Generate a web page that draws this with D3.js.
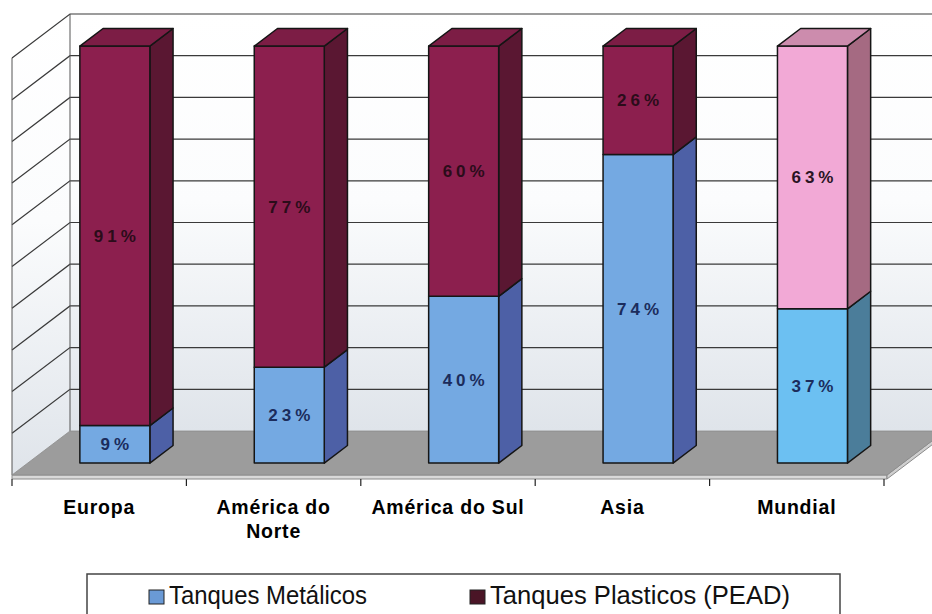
<!DOCTYPE html>
<html>
<head>
<meta charset="utf-8">
<script src="https://cdn.jsdelivr.net/npm/d3@7"></script>
<style>
  html, body { margin: 0; padding: 0; background: #fff; }
  svg { display: block; }
</style>
</head>
<body>
<div id="container"></div>
<script>
// data
const categories = ["Europa", "América do Norte", "América do Sul", "Asia", "Mundial"];
const categoryLines = [["Europa"], ["América do", "Norte"], ["América do Sul"], ["Asia"], ["Mundial"]];
const metalicos = [9, 23, 40, 74, 37];
const plasticos = [91, 77, 60, 26, 63];
const seriesNames = ["Tanques Metálicos", "Tanques Plasticos (PEAD)"];

const width = 932, height = 614;
const DX = 58, DY = 44;        // depth offset of the 3d box
const floorY = 475;
const z0 = 0.27, z1 = 0.67;    // bar depth inside the box
const barW = 70;

// face colours: [front, side, top]
const pal = {
  metal:   ["#74a9e2", "#4d60a6", "#5d86c8"],
  plastic: ["#8c1f4e", "#5a1732", "#7c1d45"],
  metalW:  ["#6cc0f2", "#4b7d9a", "#5aa0c8"],
  plastW:  ["#f2a9d6", "#a56a82", "#cc8cad"]
};

const svg = d3.select("#container").append("svg")
  .attr("width", width).attr("height", height)
  .style("font-family", "'Liberation Sans', Arial, sans-serif");

const x = d3.scaleBand().domain(categories).range([12, 884]);
const y = d3.scaleLinear().domain([0, 100]).range([0, 417]);

const proj = (px, v, z) => [px + z * DX, floorY - y(v) - z * DY];
const poly = pts => "M" + pts.map(p => p.join(",")).join("L") + "Z";

const defs = svg.append("defs");
const grad = defs.append("linearGradient").attr("id", "wall")
  .attr("x1", 0).attr("y1", 0).attr("x2", 0).attr("y2", 1);
grad.append("stop").attr("offset", "0%").attr("stop-color", "#ffffff");
grad.append("stop").attr("offset", "45%").attr("stop-color", "#fbfcfd");
grad.append("stop").attr("offset", "100%").attr("stop-color", "#dfe4ea");

const xL = 12, xR = 1000;

// walls
svg.append("path")
  .attr("d", poly([proj(xL, 0, 1), proj(xL, 100, 1), proj(xR, 100, 1), proj(xR, 0, 1)]))
  .attr("fill", "url(#wall)");
svg.append("path")
  .attr("d", poly([proj(xL, 0, 0), proj(xL, 100, 0), proj(xL, 100, 1), proj(xL, 0, 1)]))
  .attr("fill", "url(#wall)");

// gridlines
const grid = d3.range(10, 101, 10);
grid.forEach(v => {
  const a = proj(xL, v, 0), b = proj(xL, v, 1), c = proj(xR, v, 1);
  svg.append("path").attr("d", `M${a}L${b}L${c}`)
    .attr("fill", "none").attr("stroke", "#3a3a3a").attr("stroke-width", 1.2);
});
svg.append("line")
  .attr("x1", proj(xL, 0, 0)[0]).attr("y1", proj(xL, 0, 0)[1])
  .attr("x2", proj(xL, 100, 0)[0]).attr("y2", proj(xL, 100, 0)[1])
  .attr("stroke", "#555").attr("stroke-width", 1);
svg.append("line")
  .attr("x1", proj(xL, 0, 1)[0]).attr("y1", proj(xL, 0, 1)[1])
  .attr("x2", proj(xL, 100, 1)[0]).attr("y2", proj(xL, 100, 1)[1])
  .attr("stroke", "#555").attr("stroke-width", 1);

// floor with a thin slab
const fR = 887;
const slab = 4;
svg.append("path")
  .attr("d", poly([proj(xL, 0, 0), proj(fR, 0, 0), [fR, floorY + slab], [xL, floorY + slab]]))
  .attr("fill", "#d9d9d9").attr("stroke", "#8a8a8a").attr("stroke-width", 1);
svg.append("path")
  .attr("d", poly([proj(fR, 0, 0), proj(fR, 0, 1), [fR + DX, floorY - DY + slab], [fR, floorY + slab]]))
  .attr("fill", "#cfcfcf").attr("stroke", "#8a8a8a").attr("stroke-width", 1);
svg.append("path")
  .attr("d", poly([proj(xL, 0, 0), proj(fR, 0, 0), proj(fR, 0, 1), proj(xL, 0, 1)]))
  .attr("fill", "#9c9c9c").attr("stroke", "#8a8a8a").attr("stroke-width", 0.8);

// category ticks
const ticks = categories.map(c => x(c)).concat([x.range()[1]]);
svg.selectAll(".tick").data(ticks).enter().append("line")
  .attr("x1", d => d).attr("x2", d => d)
  .attr("y1", floorY + slab).attr("y2", floorY + slab + 7)
  .attr("stroke", "#222").attr("stroke-width", 1.2);

// bars
categories.forEach((cat, i) => {
  const cx = x(cat) + x.bandwidth() / 2;
  const l = cx - barW / 2, r = cx + barW / 2;
  const world = cat === "Mundial";
  const segs = [
    { v0: 0, v1: metalicos[i], c: world ? pal.metalW : pal.metal, txt: "#1b2c5c" },
    { v0: metalicos[i], v1: 100, c: world ? pal.plastW : pal.plastic, txt: world ? "#2a1424" : "#2b0c1a" }
  ];
  const g = svg.append("g");
  segs.forEach((s, k) => {
    g.append("path")
      .attr("d", poly([proj(r, s.v0, z0), proj(r, s.v1, z0), proj(r, s.v1, z1), proj(r, s.v0, z1)]))
      .attr("fill", s.c[1]).attr("stroke", "#151515").attr("stroke-width", 1.5)
      .attr("stroke-linejoin", "round");
    g.append("path")
      .attr("d", poly([proj(l, s.v0, z0), proj(l, s.v1, z0), proj(r, s.v1, z0), proj(r, s.v0, z0)]))
      .attr("fill", s.c[0]).attr("stroke", "#151515").attr("stroke-width", 1.5)
      .attr("stroke-linejoin", "round");
    if (k === segs.length - 1) {
      g.append("path")
        .attr("d", poly([proj(l, s.v1, z0), proj(r, s.v1, z0), proj(r, s.v1, z1), proj(l, s.v1, z1)]))
        .attr("fill", s.c[2]).attr("stroke", "#151515").attr("stroke-width", 1.5)
        .attr("stroke-linejoin", "round");
    }
    const mid = proj(cx, (s.v0 + s.v1) / 2, z0);
    g.append("text")
      .attr("x", mid[0] + 2).attr("y", mid[1] + 6)
      .attr("text-anchor", "middle")
      .attr("font-size", 17).attr("font-weight", "bold")
      .attr("letter-spacing", 4)
      .attr("fill", s.txt)
      .text((s.v1 - s.v0) + "%");
  });
});

// category labels
categories.forEach((cat, i) => {
  const t = svg.append("text")
    .attr("x", x(cat) + x.bandwidth() / 2)
    .attr("y", 514)
    .attr("text-anchor", "middle")
    .attr("font-size", 19.5).attr("font-weight", "bold")
    .attr("letter-spacing", 0.8)
    .attr("fill", "#000");
  categoryLines[i].forEach((ln, j) => {
    t.append("tspan").attr("x", x(cat) + x.bandwidth() / 2)
      .attr("dy", j === 0 ? 0 : 24).text(ln);
  });
});

// legend
const lg = svg.append("g");
lg.append("rect").attr("x", 87).attr("y", 574).attr("width", 753).attr("height", 60)
  .attr("fill", "#fff").attr("stroke", "#444").attr("stroke-width", 1.5);
const legendItems = [
  { name: seriesNames[0], x: 149, len: 198, fill: "#6a9ad6" },
  { name: seriesNames[1], x: 470, len: 300, fill: "#4a1526" }
];
legendItems.forEach(d => {
  lg.append("rect").attr("x", d.x).attr("y", 590).attr("width", 15).attr("height", 14)
    .attr("fill", d.fill).attr("stroke", "#222").attr("stroke-width", 1);
  lg.append("text").attr("x", d.x + 20).attr("y", 604)
    .attr("font-size", 25).attr("fill", "#111")
    .attr("textLength", d.len).attr("lengthAdjust", "spacingAndGlyphs")
    .text(d.name);
});
</script>
</body>
</html>
